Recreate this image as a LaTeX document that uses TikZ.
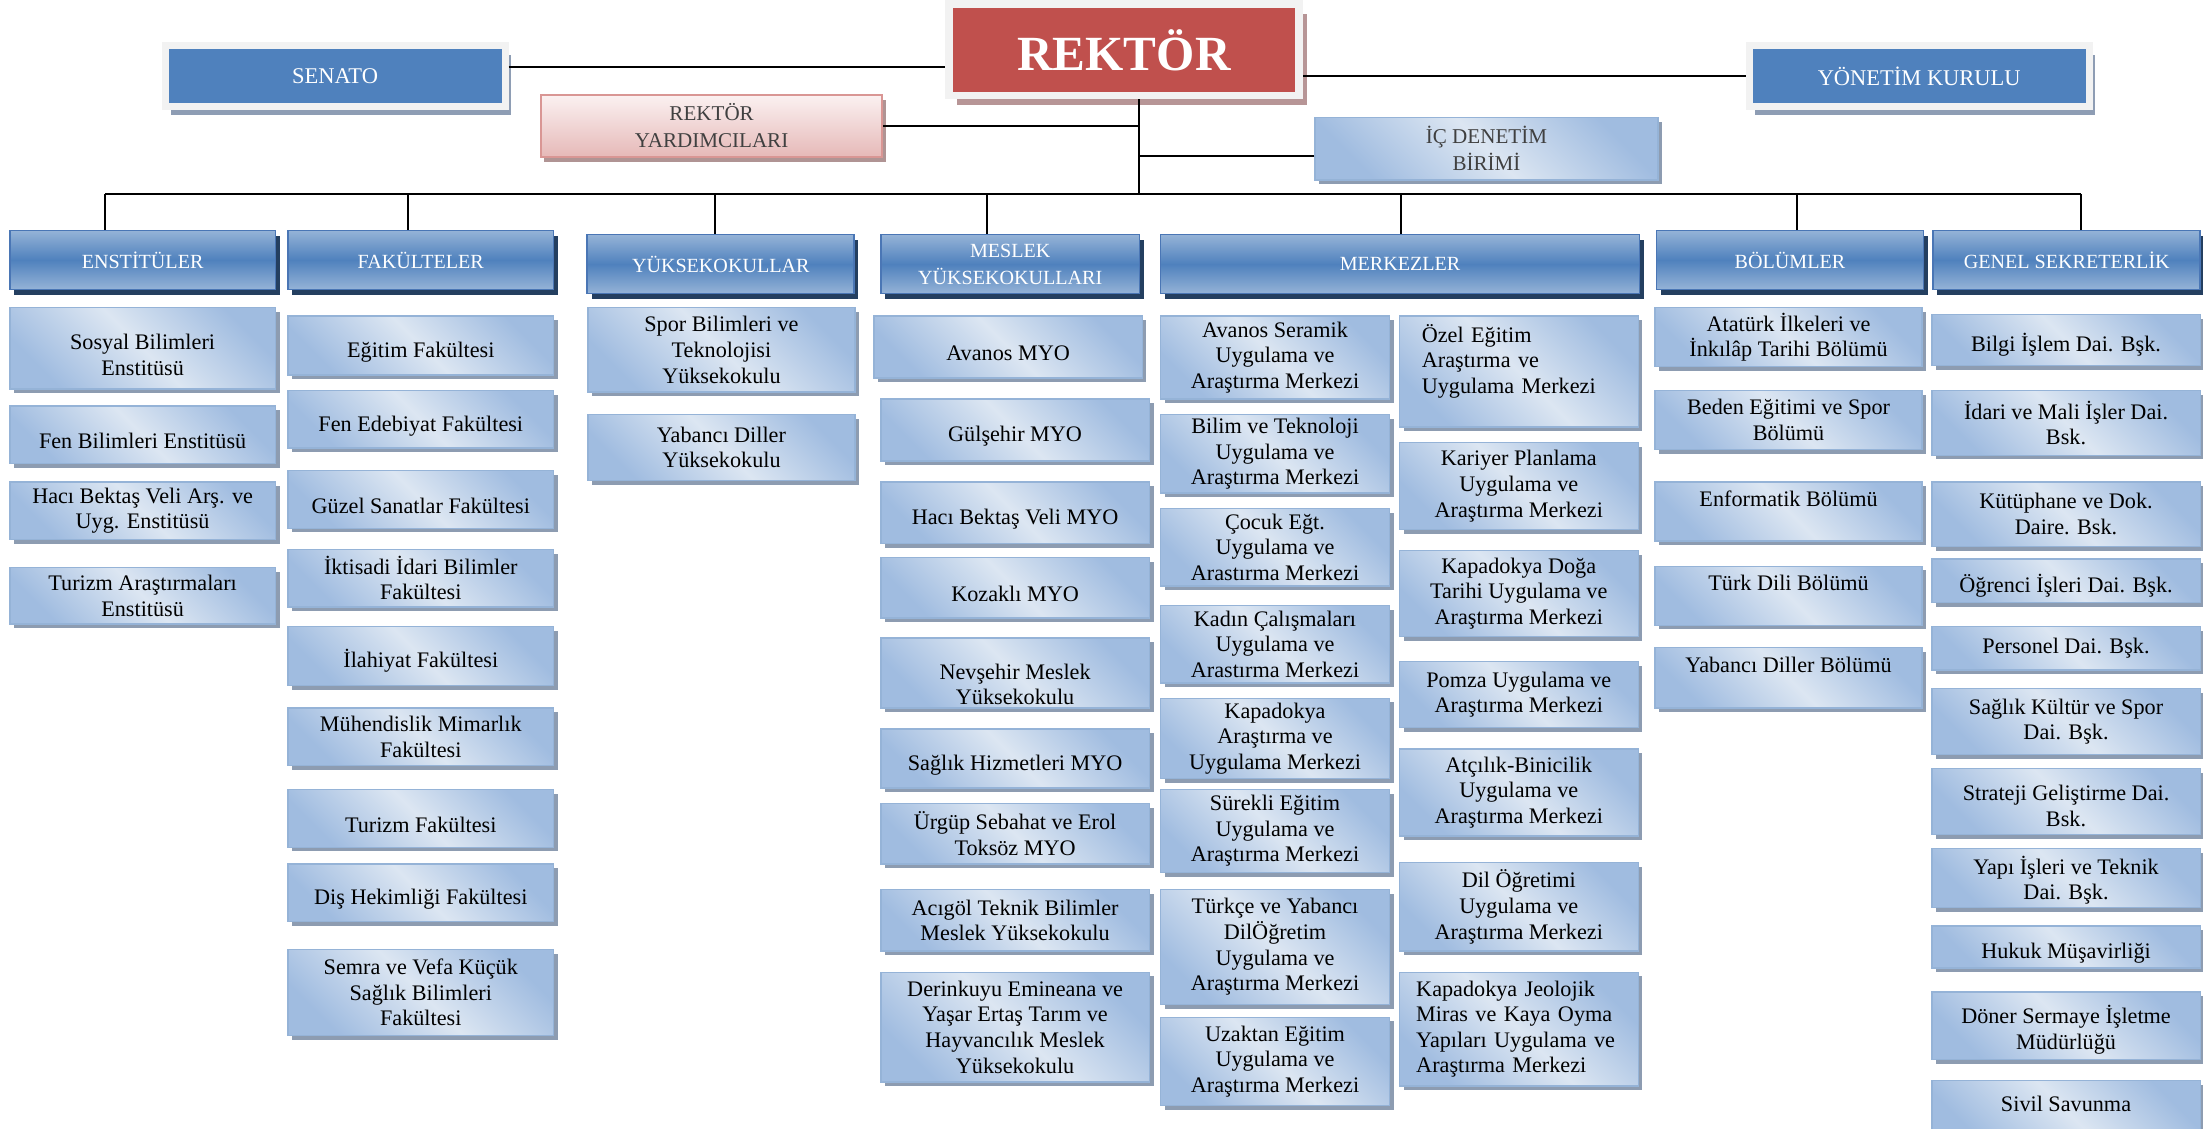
\documentclass[tikz,border=0pt]{standalone}
\usepackage{fontspec}
\setmainfont{Liberation Serif}
\usepackage{color}
\usetikzlibrary{shadows}

\definecolor{kutuacik}{HTML}{DCE6F2}
\definecolor{kutukoyu}{HTML}{A0BCE0}
\definecolor{kutucizgi}{HTML}{95B3D7}
\definecolor{kutugolge}{HTML}{8D9CB1}
\definecolor{baslikorta}{HTML}{4F81BD}
\definecolor{baslikacik}{HTML}{95B3D7}
\definecolor{baslikcizgi}{HTML}{4A76B5}
\definecolor{baslikgolge}{HTML}{243F60}
\definecolor{cerceve}{HTML}{F2F2F2}
\definecolor{mavi}{HTML}{4F81BD}
\definecolor{mavigolge}{HTML}{8E9DB4}
\definecolor{kirmizi}{HTML}{C0504D}
\definecolor{kirmizigolge}{HTML}{B79596}
\definecolor{pembe}{HTML}{E6B9B8}
\definecolor{pembeacik}{HTML}{FBF1F1}
\definecolor{pembecizgi}{HTML}{D99694}
\definecolor{pembegolge}{HTML}{B09494}
\definecolor{gri}{HTML}{404040}

\begin{document}
\begin{tikzpicture}[%
      x=1pt, y=-1pt,
      kutu/.style={rectangle, draw=kutucizgi, line width=1pt,
        top color=kutukoyu, bottom color=kutukoyu, middle color=kutuacik,
        shading angle=-45, inner sep=2pt, align=center,
        font=\fontsize{15.8}{18.2}\selectfont,
        general shadow={fill=kutugolge, shadow xshift=3pt, shadow yshift=-3pt}},
      tek/.style={execute at begin node={\rule{0pt}{20pt}}},
      baslik/.style={rectangle, draw=baslikcizgi, line width=1.2pt,
        top color=baslikacik, bottom color=baslikacik, middle color=baslikorta,
        text=white, inner sep=2pt, align=center, text depth=-4pt,
        font=\fontsize{14.3}{19}\selectfont,
        general shadow={fill=baslikgolge, shadow xshift=3pt, shadow yshift=-4pt}},
      kurul/.style={rectangle, fill=mavi, draw=cerceve, line width=5pt,
        text=white, font=\fontsize{16}{19}\selectfont,
        minimum width=242pt, minimum height=43pt,
        general shadow={fill=mavigolge, shadow xshift=4pt, shadow yshift=-6.5pt}},
      yardim/.style={rectangle, draw=pembecizgi, line width=1.5pt,
        top color=pembeacik, bottom color=pembe, text=gri, align=center,
        font=\fontsize{15}{19}\selectfont,
        general shadow={fill=pembegolge, shadow xshift=2.5pt, shadow yshift=-4pt}},
      baglanti/.style={color=black, line width=1.4pt},
      ]
      \useasboundingbox (0,0) rectangle (1568,803);

      \node [rectangle, fill=kirmizi, draw=cerceve, line width=5.5pt,
        minimum width=249pt, minimum height=65pt, text=white,
        font=\fontsize{35}{40}\selectfont\bfseries,
        general shadow={fill=kirmizigolge, shadow xshift=5.5pt, shadow yshift=-7pt}]
        (rektor) at (800,35.5) {REKTÖR};
      \node [kurul] (senato) at (238.5,54) {SENATO};
      \node [kurul] (yonetim) at (1366,54) {YÖNETİM KURULU};
      \node [yardim, minimum width=243pt, minimum height=44pt] (ry) at (506.5,89.5) {REKTÖR\\YARDIMCILARI};
      \node [kutu, text=gri, font=\fontsize{15}{19}\selectfont, minimum width=244pt, minimum height=44.5pt]
        (ic) at (1058,105.75) {İÇ DENETİM\\BİRİMİ};

      \node [baslik, minimum width=189pt, minimum height=42pt] (enstituler) at (101.5,185) {ENSTİTÜLER};
      \node [baslik, minimum width=189pt, minimum height=42pt] (fakulteler) at (299.5,185) {FAKÜLTELER};
      \node [baslik, minimum width=190pt, minimum height=42pt] (yuksekokullar) at (513,188) {YÜKSEKOKULLAR};
      \node [baslik, minimum width=184pt, minimum height=42pt] (meslek) at (719,188) {MESLEK\\YÜKSEKOKULLARI};
      \node [baslik, minimum width=341pt, minimum height=42pt] (merkezler) at (996.5,188) {MERKEZLER};
      \node [baslik, minimum width=190pt, minimum height=42pt] (bolumler) at (1274,185) {BÖLÜMLER};
      \node [baslik, minimum width=190pt, minimum height=42pt] (genelsek) at (1471,185) {GENEL SEKRETERLİK};

      \node [kutu, minimum width=189pt, minimum height=58pt] (sosyal) at (101.5,248) {\rule{0pt}{20pt}Sosyal Bilimleri\\Enstitüsü};
      \node [kutu, tek, minimum width=189pt, minimum height=41pt] (fenbil) at (101.5,309.5) {Fen Bilimleri Enstitüsü};
      \node [kutu, minimum width=189pt, minimum height=41pt] (hacibv) at (101.5,363.5) {Hacı Bektaş Veli Arş. ve\\Uyg. Enstitüsü};
      \node [kutu, minimum width=189pt, minimum height=40pt] (turizmens) at (101.5,424) {Turizm Araştırmaları\\Enstitüsü};

      \node [kutu, tek, minimum width=189pt, minimum height=42pt] (egitim) at (299.5,246) {Eğitim Fakültesi};
      \node [kutu, tek, minimum width=189pt, minimum height=41pt] (fenedeb) at (299.5,298.5) {Fen Edebiyat Fakültesi};
      \node [kutu, tek, minimum width=189pt, minimum height=41pt] (guzel) at (299.5,355.5) {Güzel Sanatlar Fakültesi};
      \node [kutu, minimum width=189pt, minimum height=41pt] (iktisadi) at (299.5,411.5) {İktisadi İdari Bilimler\\Fakültesi};
      \node [kutu, tek, minimum width=189pt, minimum height=42pt] (ilahiyat) at (299.5,467) {İlahiyat Fakültesi};
      \node [kutu, minimum width=189pt, minimum height=41pt] (muhendis) at (299.5,524.5) {Mühendislik Mimarlık\\Fakültesi};
      \node [kutu, tek, minimum width=189pt, minimum height=41pt] (turizmfak) at (299.5,582.5) {Turizm Fakültesi};
      \node [kutu, tek, minimum width=189pt, minimum height=41pt] (dis) at (299.5,635.5) {Diş Hekimliği Fakültesi};
      \node [kutu, minimum width=189pt, minimum height=61pt] (semra) at (299.5,706.5) {Semra ve Vefa Küçük\\Sağlık Bilimleri\\Fakültesi};

      \node [kutu, minimum width=190pt, minimum height=60pt] (spor) at (513.5,249) {Spor Bilimleri ve\\Teknolojisi\\Yüksekokulu};
      \node [kutu, minimum width=190pt, minimum height=47pt] (yabanciyo) at (513.5,318.5) {Yabancı Diller\\Yüksekokulu};

      \node [kutu, tek, minimum width=191pt, minimum height=44pt] (avanos) at (717.5,247) {Avanos MYO};
      \node [kutu, tek, minimum width=191pt, minimum height=44pt] (gulsehir) at (722.5,306) {Gülşehir MYO};
      \node [kutu, tek, minimum width=191pt, minimum height=44pt] (hacimyo) at (722.5,365) {Hacı Bektaş Veli MYO};
      \node [kutu, tek, minimum width=191pt, minimum height=43pt] (kozakli) at (722.5,418.5) {Kozaklı MYO};
      \node [kutu, minimum width=191pt, minimum height=50pt] (nevsehir) at (722.5,479) {\rule{0pt}{27pt}Nevşehir Meslek\\Yüksekokulu};
      \node [kutu, tek, minimum width=191pt, minimum height=42pt] (saglikmyo) at (722.5,540) {Sağlık Hizmetleri MYO};
      \node [kutu, minimum width=191pt, minimum height=43pt] (urgup) at (722.5,593.5) {Ürgüp Sebahat ve Erol\\Toksöz MYO};
      \node [kutu, minimum width=191pt, minimum height=44pt] (acigol) at (722.5,655) {Acıgöl Teknik Bilimler\\Meslek Yüksekokulu};
      \node [kutu, minimum width=191pt, minimum height=78pt] (derinkuyu) at (722.5,731) {Derinkuyu Emineana ve\\Yaşar Ertaş Tarım ve\\Hayvancılık Meslek\\Yüksekokulu};

      \node [kutu, minimum width=163pt, minimum height=59pt] (seramik) at (907.5,254.5) {Avanos Seramik\\Uygulama ve\\Araştırma Merkezi};
      \node [kutu, minimum width=163pt, minimum height=56pt] (bilim) at (907.5,323) {Bilim ve Teknoloji\\Uygulama ve\\Araştırma Merkezi};
      \node [kutu, minimum width=163pt, minimum height=55pt] (cocuk) at (907.5,389.5) {Çocuk Eğt.\\Uygulama ve\\Arastırma Merkezi};
      \node [kutu, minimum width=163pt, minimum height=55pt] (kadin) at (907.5,458.5) {Kadın Çalışmaları\\Uygulama ve\\Arastırma Merkezi};
      \node [kutu, minimum width=163pt, minimum height=57pt] (kapadokya) at (907.5,525.5) {Kapadokya\\Araştırma ve\\Uygulama Merkezi};
      \node [kutu, minimum width=163pt, minimum height=59pt] (surekli) at (907.5,591.5) {Sürekli Eğitim\\Uygulama ve\\Araştırma Merkezi};
      \node [kutu, minimum width=163pt, minimum height=82pt] (turkce) at (907.5,674) {Türkçe ve Yabancı\\DilÖğretim\\Uygulama ve\\Araştırma Merkezi};
      \node [kutu, minimum width=163pt, minimum height=63pt] (uzaktan) at (907.5,755.5) {Uzaktan Eğitim\\Uygulama ve\\Araştırma Merkezi};

      \node [kutu, minimum width=170pt, minimum height=79pt, align=left, text width=138pt] (ozel) at (1081,264.5) {Özel Eğitim\\Araştırma ve\\Uygulama Merkezi\\\mbox{}};
      \node [kutu, minimum width=170pt, minimum height=62pt] (kariyer) at (1081,346) {Kariyer Planlama\\Uygulama ve\\Araştırma Merkezi};
      \node [kutu, minimum width=170pt, minimum height=61pt] (dogatarihi) at (1081,422.5) {Kapadokya Doğa\\Tarihi Uygulama ve\\Araştırma Merkezi};
      \node [kutu, minimum width=170pt, minimum height=47pt] (pomza) at (1081,494.5) {Pomza Uygulama ve\\Araştırma Merkezi};
      \node [kutu, minimum width=170pt, minimum height=62pt] (atcilik) at (1081,564) {Atçılık-Binicilik\\Uygulama ve\\Araştırma Merkezi};
      \node [kutu, minimum width=170pt, minimum height=63pt] (dilogretimi) at (1081,645.5) {Dil Öğretimi\\Uygulama ve\\Araştırma Merkezi};
      \node [kutu, minimum width=170pt, minimum height=81pt, align=left, text width=146pt] (jeolojik) at (1081,732.5) {Kapadokya Jeolojik\\Miras ve Kaya Oyma\\Yapıları Uygulama ve\\Araştırma Merkezi};

      \node [kutu, minimum width=190pt, minimum height=42pt] (ataturk) at (1273,240) {Atatürk İlkeleri ve\\İnkılâp Tarihi Bölümü};
      \node [kutu, minimum width=190pt, minimum height=42pt] (beden) at (1273,299) {Beden Eğitimi ve Spor\\Bölümü};
      \node [kutu, minimum width=190pt, minimum height=42pt] (enformatik) at (1273,364) {Enformatik Bölümü\\\mbox{}};
      \node [kutu, minimum width=190pt, minimum height=42pt] (turkdili) at (1273,424) {Türk Dili Bölümü\\\mbox{}};
      \node [kutu, minimum width=190pt, minimum height=43pt] (yabancibol) at (1273,482.5) {Yabancı Diller Bölümü\\\mbox{}};

      \node [kutu, tek, minimum width=191pt, minimum height=36pt] (bilgi) at (1470.5,242) {Bilgi İşlem Dai. Bşk.};
      \node [kutu, minimum width=191pt, minimum height=46pt] (idari) at (1470.5,301) {İdari ve Mali İşler Dai.\\Bsk.};
      \node [kutu, minimum width=191pt, minimum height=46pt] (kutuphane) at (1470.5,366) {Kütüphane ve Dok.\\Daire. Bsk.};
      \node [kutu, tek, minimum width=191pt, minimum height=31pt] (ogrenci) at (1470.5,413.5) {Öğrenci İşleri Dai. Bşk.};
      \node [kutu, minimum width=191pt, minimum height=31pt] (personel) at (1470.5,461.5) {Personel Dai. Bşk.};
      \node [kutu, minimum width=191pt, minimum height=47pt] (saglikkultur) at (1470.5,513.5) {Sağlık Kültür ve Spor\\Dai. Bşk.};
      \node [kutu, minimum width=191pt, minimum height=47pt] (strateji) at (1470.5,570.5) {\rule{0pt}{17pt}Strateji Geliştirme Dai.\\Bsk.};
      \node [kutu, minimum width=191pt, minimum height=42pt] (yapi) at (1470.5,625) {\rule{0pt}{16pt}Yapı İşleri ve Teknik\\Dai. Bşk.};
      \node [kutu, tek, minimum width=191pt, minimum height=30pt] (hukuk) at (1470.5,674) {Hukuk Müşavirliği};
      \node [kutu, minimum width=191pt, minimum height=48pt] (doner) at (1470.5,730) {\rule{0pt}{19pt}Döner Sermaye İşletme\\Müdürlüğü};
      \node [kutu, minimum width=191pt, minimum height=43pt] (sivil) at (1470.5,790.5) {Sivil Savunma\\[-8pt]\mbox{}};

      \coordinate (govde) at (811,138);
      \coordinate (busE) at (75,138);
      \coordinate (busF) at (290.6,138);
      \coordinate (busY) at (509,138);
      \coordinate (busM) at (702.6,138);
      \coordinate (busK) at (997,138);
      \coordinate (busB) at (1279,138);
      \coordinate (busG) at (1481,138);

      \draw [baglanti] ([yshift=6.5pt]senato.east) -- ([yshift=6.5pt]senato.east -| rektor.west);
      \draw [baglanti] (yonetim.west) -- (yonetim.west -| rektor.east);
      \draw [baglanti] ([xshift=11pt]rektor.south) -- (govde);
      \draw [baglanti] (ry.east) -- (ry.east -| govde);
      \draw [baglanti] ([yshift=-5.25pt]ic.west) -- ([yshift=-5.25pt]ic.west -| govde);
      \draw [baglanti] (busE) -- (busG);
      \draw [baglanti] (busE) -- (busE |- enstituler.north);
      \draw [baglanti] (busF) -- (busF |- fakulteler.north);
      \draw [baglanti] (busY) -- (busY |- yuksekokullar.north);
      \draw [baglanti] (busM) -- (busM |- meslek.north);
      \draw [baglanti] (busK) -- (busK |- merkezler.north);
      \draw [baglanti] (busB) -- (busB |- bolumler.north);
      \draw [baglanti] (busG) -- (busG |- genelsek.north);
      \end{tikzpicture}
\end{document}
